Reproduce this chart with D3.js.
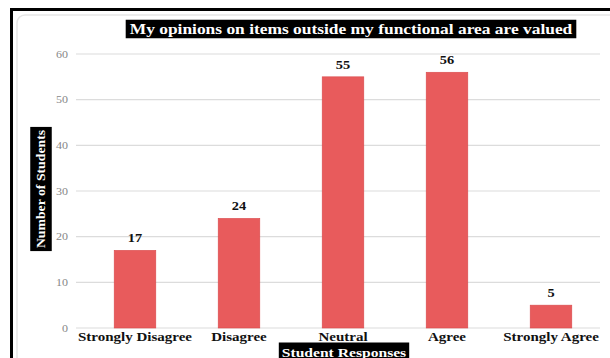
<!DOCTYPE html>
<html>
<head>
<meta charset="utf-8">
<script src="https://cdn.jsdelivr.net/npm/d3@7"></script>
<style>
  html, body { margin: 0; padding: 0; background: #fff; }
  svg { display: block; }
  text { font-family: "Liberation Serif", "Times New Roman", serif; }
</style>
</head>
<body>
<svg id="chart" width="610" height="358"></svg>
<script>
// Survey responses
const categories = ["Strongly Disagree", "Disagree", "Neutral", "Agree", "Strongly Agree"];
const counts = [17, 24, 55, 56, 5];
const yTicks = [0, 10, 20, 30, 40, 50, 60];
const chartTitle = "My opinions on items outside my functional area are valued";
const yTitle = "Number of Students";
const xTitle = "Student Responses";

const svg = d3.select("#chart");
const W = 610, H = 358;
const STRETCH = 1.2; // wide-set lettering

// widen a text element horizontally around its anchor; returns the new width
function widen(sel, k) {
  let last = 0;
  sel.each(function () {
    const n = this.getComputedTextLength();
    last = n * k;
    d3.select(this).attr("textLength", last).attr("lengthAdjust", "spacingAndGlyphs");
  });
  return last;
}

// outer frame
svg.append("rect").attr("x", 0).attr("y", 0).attr("width", W).attr("height", H).attr("fill", "#fff");
svg.append("rect")
  .attr("x", 11.5).attr("y", 9.5).attr("width", W + 10).attr("height", H + 10)
  .attr("fill", "none").attr("stroke", "#000").attr("stroke-width", 3);

// inner card
svg.append("rect")
  .attr("x", 17).attr("y", 15).attr("width", W).attr("height", H)
  .attr("rx", 8).attr("fill", "#fff").attr("stroke", "#e6e6e6").attr("stroke-width", 1.5);

const plot = { left: 76, right: 600, top: 54, bottom: 328 };

const x = d3.scaleBand().domain(categories).range([83, 603]).paddingInner(0.6).paddingOuter(0.3);
const y = d3.scaleLinear().domain([0, 60]).range([plot.bottom, plot.top]);

// gridlines
svg.append("g").selectAll("line").data(yTicks).join("line")
  .attr("x1", plot.left).attr("x2", plot.right)
  .attr("y1", d => y(d)).attr("y2", d => y(d))
  .attr("stroke", "#dcdcdc").attr("stroke-width", 1.2);

// y tick labels
const yAxis = d3.axisLeft(y).tickValues(yTicks).tickSize(0).tickPadding(0);
const gy = svg.append("g").attr("transform", `translate(${plot.left - 8},0)`).call(yAxis);
gy.select(".domain").remove();
gy.selectAll("text")
  .attr("fill", "#888").attr("font-size", 10)
  .style("font-family", "'Liberation Serif', serif");
widen(gy.selectAll("text"), STRETCH);

// bars
svg.append("g").selectAll("rect").data(counts).join("rect")
  .attr("x", (d, i) => x(categories[i]))
  .attr("width", x.bandwidth())
  .attr("y", d => y(d))
  .attr("height", d => y(0) - y(d))
  .attr("fill", "#e85b5c")
  .attr("stroke", "#d94a4c").attr("stroke-width", 0.6);

// value labels
const vl = svg.append("g").selectAll("text").data(counts).join("text")
  .attr("x", (d, i) => x(categories[i]) + x.bandwidth() / 2)
  .attr("y", d => y(d) - 8)
  .attr("text-anchor", "middle")
  .attr("font-size", 12).attr("font-weight", "bold").attr("fill", "#111")
  .text(d => d);
widen(vl, STRETCH);

// category labels
const xAxis = d3.axisBottom(x).tickSize(0).tickPadding(0);
const gx = svg.append("g").attr("transform", `translate(0,${plot.bottom + 4})`).call(xAxis);
gx.select(".domain").remove();
gx.selectAll("text")
  .attr("dy", "0.71em")
  .attr("fill", "#111").attr("font-size", 12.5).attr("font-weight", "bold")
  .style("font-family", "'Liberation Serif', serif");
widen(gx.selectAll("text"), STRETCH);

// helper: white text on black box
function labelBox(g, text, size, padX, padY, k) {
  const t = g.append("text")
    .attr("text-anchor", "middle").attr("dominant-baseline", "central")
    .attr("font-size", size).attr("font-weight", "bold").attr("fill", "#fff")
    .text(text);
  const w = widen(t, k);
  g.insert("rect", "text")
    .attr("x", -w / 2 - padX).attr("y", -size / 2 - padY)
    .attr("width", w + padX * 2).attr("height", size + padY * 2)
    .attr("fill", "#000");
}

// chart title
const gt = svg.append("g").attr("transform", "translate(351,29)");
labelBox(gt, chartTitle, 14.5, 4, 2, STRETCH);

// y-axis title
const gyt = svg.append("g").attr("transform", "translate(41,189) rotate(-90)");
labelBox(gyt, yTitle, 12.5, 3, 4.5, 1.1);

// x-axis title
const gxt = svg.append("g").attr("transform", "translate(344,352)");
labelBox(gxt, xTitle, 13, 3, 3, STRETCH);
</script>
</body>
</html>
